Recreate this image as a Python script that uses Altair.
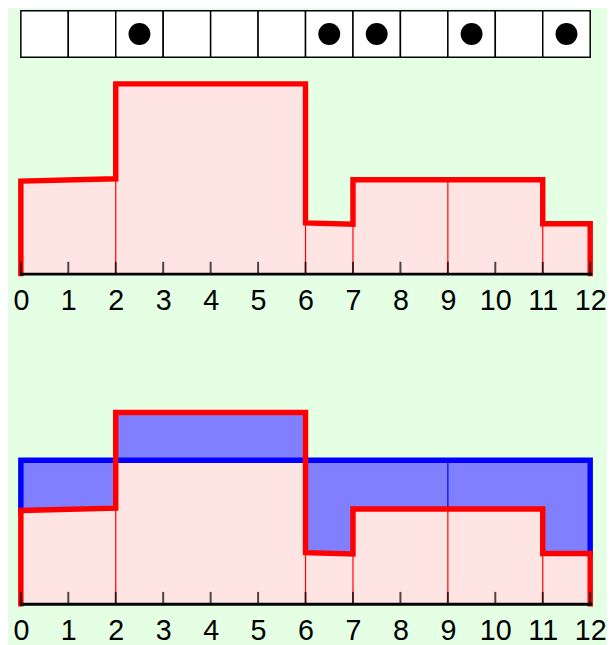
import altair as alt
import pandas as pd

# ---- data ----
bin_edges = [0, 2, 6, 7, 9, 11, 12]
left_heights = [1.95, 4.0, 1.07, 1.98, 1.98, 1.05]
right_heights = [2.0, 4.0, 1.04, 1.98, 1.98, 1.05]
blue_level = 3.0
blue_split = 9
n_cells = 12
dot_cells = [2, 6, 7, 9, 11]
tick_values = list(range(13))

BG = "#e4ffe4"
PINK = "#ffe4e4"
RED = "#ff0000"
BLUE = "#0000ff"
LIGHTBLUE = "#8080ff"
W = 576

# ---- tables built from the lists above ----
nb = len(left_heights)
bins_df = pd.DataFrame({
    "x": bin_edges[:-1],
    "x2": bin_edges[1:],
    "h": [(left_heights[b] + right_heights[b]) / 2 for b in range(nb)],
    "base": [0.0] * nb,
    "b": [blue_level] * nb,
})

step_rows = [{"x": bin_edges[0], "h": 0.0}]
for b in range(nb):
    step_rows.append({"x": bin_edges[b], "h": left_heights[b]})
    step_rows.append({"x": bin_edges[b + 1], "h": right_heights[b]})
step_rows.append({"x": bin_edges[-1], "h": 0.0})
red_df = pd.DataFrame(step_rows)
red_df["i"] = range(len(red_df))

edge_df = pd.DataFrame({
    "x": bin_edges[1:-1],
    "h": [min(right_heights[e - 1], left_heights[e]) for e in range(1, len(bin_edges) - 1)],
    "base": [0.0] * (len(bin_edges) - 2),
})

split_idx = bin_edges.index(blue_split)
blue_div_df = pd.DataFrame({"x": [blue_split], "h": [right_heights[split_idx - 1]], "b": [blue_level]})

blue_line_df = pd.DataFrame({
    "x": [bin_edges[0], bin_edges[0], bin_edges[-1], bin_edges[-1]],
    "h": [left_heights[0], blue_level, blue_level, right_heights[-1]],
    "i": [0, 1, 2, 3],
})

ticks_df = pd.DataFrame({"x": tick_values})
cells_df = pd.DataFrame({"x": list(range(n_cells)), "x2": [c + 1 for c in range(n_cells)]})
dots_df = pd.DataFrame({"x": [c + 0.5 for c in dot_cells]})

xscale = alt.Scale(domain=[bin_edges[0], bin_edges[-1]], nice=False, zero=False)
xaxis = alt.Axis(values=tick_values, ticks=False, tickSize=0, grid=False, title=None,
                 labelFont="Liberation Sans", labelFontSize=29, labelColor="black",
                 labelPadding=13, labelFlush=False, labelOverlap=False,
                 domainColor="black", domainWidth=3, domainCap="square", zindex=1, format="d")


def X():
    return alt.X("x:Q", scale=xscale, axis=xaxis)


def panel(height, ymax, with_blue):
    ysc = alt.Scale(domain=[0, ymax], nice=False, zero=True)

    def Y():
        return alt.Y("h:Q", scale=ysc, axis=None)

    layers = [
        alt.Chart(bins_df).mark_rect(fill=PINK, stroke=PINK, strokeWidth=1, opacity=1).encode(
            x=X(), x2="x2:Q", y=Y(), y2="base:Q"),
        alt.Chart(edge_df).mark_rule(color=RED, strokeWidth=1.2, opacity=1).encode(
            x=X(), y=Y(), y2="base:Q"),
    ]
    if with_blue:
        layers += [
            alt.Chart(bins_df).mark_rect(fill=LIGHTBLUE, stroke=LIGHTBLUE, strokeWidth=1, opacity=1).encode(
                x=X(), x2="x2:Q", y=Y(), y2="b:Q"),
            alt.Chart(blue_div_df).mark_rule(color=BLUE, strokeWidth=1.2).encode(
                x=X(), y=Y(), y2="b:Q"),
            alt.Chart(blue_line_df).mark_line(color=BLUE, strokeWidth=5.5, strokeCap="square",
                                              strokeJoin="miter").encode(x=X(), y=Y(), order="i:Q"),
        ]
    layers.append(
        alt.Chart(red_df).mark_line(color=RED, strokeWidth=5.5, strokeCap="square",
                                    strokeJoin="miter").encode(x=X(), y=Y(), order="i:Q"))
    layers.append(
        alt.Chart(ticks_df).mark_rule(color="black", strokeWidth=2, opacity=0.7).encode(
            x=X(), y=alt.value(height), y2=alt.value(height - 12)))
    return alt.layer(*layers).properties(width=W, height=height)


strip_x = alt.X("x:Q", scale=xscale, axis=None)
cells = alt.Chart(cells_df).mark_rect(fill="white", stroke="black", strokeWidth=1.5).encode(
    x=strip_x, x2="x2:Q", y=alt.value(0), y2=alt.value(47))
dots = alt.Chart(dots_df).mark_point(shape="circle", filled=True, color="black", opacity=1, size=490).encode(
    x=strip_x, y=alt.value(23.5))
strip = alt.layer(cells, dots).properties(width=W, height=47)

middle = panel(198, 198 / 48.0, False)
bottom = panel(278, 278 / 48.4, True)

chart = alt.vconcat(strip, middle, bottom, spacing=14).properties(
    padding={"left": 2, "top": -2, "right": 0, "bottom": 0},
    background=BG,
).configure_view(stroke=None)

chart.save("out.html", embed_options={"renderer": "svg", "actions": False})
